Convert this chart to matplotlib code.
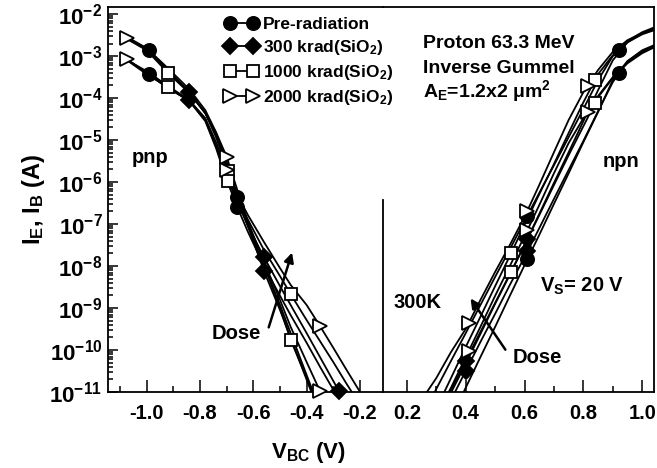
import numpy as np
import matplotlib.pyplot as plt
from matplotlib.lines import Line2D
from matplotlib.ticker import FixedLocator, FixedFormatter, LogLocator, FuncFormatter, NullFormatter

plt.rcParams['font.family'] = ['Liberation Sans', 'DejaVu Sans']
plt.rcParams['font.weight'] = 'bold'
plt.rcParams['axes.labelweight'] = 'bold'
plt.rcParams['mathtext.fontset'] = 'custom'
plt.rcParams['mathtext.rm'] = 'Liberation Sans:bold'
plt.rcParams['mathtext.it'] = 'Liberation Sans:bold'
plt.rcParams['mathtext.bf'] = 'Liberation Sans:bold'
plt.rcParams['mathtext.default'] = 'rm'

# ---- pnp branch (negative V_BC), log10 of current in A ----
vl = [-1.08, -1.00, -0.92, -0.84, -0.78, -0.74, -0.70, -0.66, -0.62,
      -0.56, -0.50, -0.46, -0.40, -0.35, -0.30, -0.25, -0.20, -0.15]

pnp_pre_hi = [-2.52, -2.81, -3.33, -3.86, -4.36, -4.86, -5.55, -6.36, -7.02,
              -7.98, -8.93, -9.60, -10.60, -11.43]
pnp_300_hi = [-2.55, -2.83, -3.36, -3.86, -4.36, -4.83, -5.52, -6.31, -7.05,
              -8.12, -9.05, -9.71, -10.71, -11.55]
pnp_1000_hi = [-2.57, -2.86, -3.40, -3.88, -4.36, -4.93, -5.64, -6.38, -7.05,
               -7.98, -9.00, -9.76, -10.67, -11.43]
pnp_2000_hi = [-2.57, -2.81, -3.29, -3.79, -4.29, -4.81, -5.40, -6.19, -6.95,
               -7.90, -8.81, -9.45, -10.29, -10.98, -11.67]

pnp_pre_lo = [-3.05, -3.40, -3.76, -4.07, -4.55, -5.19, -5.95, -6.60, -7.19,
              -8.00, -8.71, -9.17, -9.83, -10.40, -10.95, -11.48]
pnp_300_lo = [-3.05, -3.40, -3.76, -4.05, -4.52, -5.14, -5.86, -6.48, -7.05,
              -7.79, -8.48, -8.93, -9.60, -10.17, -10.74, -11.31]
pnp_1000_lo = [-3.07, -3.43, -3.74, -4.07, -4.52, -5.14, -5.90, -6.38, -6.90,
               -7.62, -8.24, -8.67, -9.29, -9.79, -10.29, -10.81, -11.31]
pnp_2000_lo = [-3.07, -3.36, -3.71, -4.05, -4.48, -5.05, -5.71, -6.31, -6.79,
               -7.43, -8.05, -8.45, -8.93, -9.43, -9.95, -10.48, -11.00, -11.52]

# ---- npn branch (positive V_BC) ----
vr = [0.25, 0.30, 0.35, 0.40, 0.45, 0.50, 0.55, 0.60, 0.65,
      0.70, 0.75, 0.80, 0.85, 0.90, 0.95, 1.00, 1.05]

npn_pre_hi = [-11.62, -10.93, -10.26, -9.60, -8.93, -8.26, -7.60, -6.93, -6.26,
              -5.60, -4.93, -4.26, -3.57, -3.00, -2.64, -2.43, -2.29]
npn_300_hi = [-11.64, -10.95, -10.26, -9.57, -8.88, -8.19, -7.50, -6.76,
              -6.02, -5.29, -4.55, -3.81, -3.10, -2.67, -2.45, -2.33]
npn_1000_hi = [-11.40, -10.67, -9.93, -9.21, -8.48, -7.76, -7.02, -6.29,
               -5.57, -4.83, -4.10, -3.43, -2.98, -2.67, -2.48, -2.36]
npn_2000_hi = [-11.19, -10.67, -10.05, -9.50, -8.81, -8.14, -7.50, -6.83, -6.07,
               -5.29, -4.52, -3.86, -3.33, -2.90, -2.62, -2.45, -2.33]

npn_pre_lo = [-11.64, -10.90, -10.17, -9.45, -8.71, -7.98, -7.26, -6.52,
              -5.79, -5.05, -4.33, -3.57, -3.12, -2.86, -2.71]
npn_300_lo = [-11.88, -11.19, -10.50, -9.81, -9.14, -8.45, -7.79, -7.10,
              -6.40, -5.71, -5.02, -4.31, -3.62, -3.12, -2.88, -2.74]
npn_1000_lo = [-11.74, -11.02, -10.33, -9.62, -8.90, -8.21, -7.50, -6.79,
               -6.07, -5.36, -4.67, -3.98, -3.52, -3.17, -2.93, -2.76]
npn_2000_lo = [-12.26, -11.57, -10.90, -10.17, -9.45, -8.71, -8.00, -7.29, -6.55,
               -5.79, -5.07, -4.48, -3.95, -3.50, -3.14, -2.90, -2.74]

# symbol positions (V, log10 I)
pnp_pre_mv = [-0.99, -0.99, -0.66, -0.66]
pnp_pre_mi = [-2.86, -3.43, -6.36, -6.60]
pnp_300_mv = [-0.84, -0.84, -0.56, -0.56, -0.28]
pnp_300_mi = [-3.86, -4.05, -8.12, -7.79, -10.97]
pnp_1000_mv = [-0.92, -0.92, -0.695, -0.695, -0.46, -0.46]
pnp_1000_mi = [-3.40, -3.74, -5.73, -5.98, -9.76, -8.67]
pnp_2000_mv = [-1.075, -1.075, -0.70, -0.70, -0.35, -0.35]
pnp_2000_mi = [-2.56, -3.06, -5.40, -5.71, -10.98, -9.43]

npn_pre_mv = [0.61, 0.61, 0.92, 0.92]
npn_pre_mi = [-6.80, -7.84, -2.86, -3.39]
npn_300_mv = [0.40, 0.40, 0.61, 0.61]
npn_300_mi = [-10.26, -10.50, -7.35, -7.65]
npn_1000_mv = [0.555, 0.555, 0.84, 0.84]
npn_1000_mi = [-7.69, -8.14, -3.56, -4.12]
npn_2000_mv = [0.41, 0.41, 0.61, 0.61, 0.815, 0.815]
npn_2000_mi = [-9.36, -10.03, -6.68, -7.14, -3.70, -4.32]

labels = ['Pre-radiation', '300 krad(SiO$_2$)', '1000 krad(SiO$_2$)', '2000 krad(SiO$_2$)']
xticks_l = [-1.0, -0.8, -0.6, -0.4, -0.2]
xticks_r = [0.2, 0.4, 0.6, 0.8, 1.0]

styles = [dict(marker='o', ms=9.5, mfc='k'),
          dict(marker='D', ms=8, mfc='k'),
          dict(marker='s', ms=9, mfc='white'),
          dict(marker='>', ms=9.5, mfc='white')]

pnp_curves = [(pnp_pre_hi, pnp_pre_lo), (pnp_300_hi, pnp_300_lo),
              (pnp_1000_hi, pnp_1000_lo), (pnp_2000_hi, pnp_2000_lo)]
npn_curves = [(npn_pre_hi, npn_pre_lo), (npn_300_hi, npn_300_lo),
              (npn_1000_hi, npn_1000_lo), (npn_2000_hi, npn_2000_lo)]
pnp_marks = [(pnp_pre_mv, pnp_pre_mi), (pnp_300_mv, pnp_300_mi),
             (pnp_1000_mv, pnp_1000_mi), (pnp_2000_mv, pnp_2000_mi)]
npn_marks = [(npn_pre_mv, npn_pre_mi), (npn_300_mv, npn_300_mi),
             (npn_1000_mv, npn_1000_mi), (npn_2000_mv, npn_2000_mi)]

fig = plt.figure(figsize=(6.57, 4.68), dpi=100)
axl = fig.add_axes([0.1644, 0.1624, 0.4181, 0.8226])
axr = fig.add_axes([0.5825, 0.1624, 0.4129, 0.8226], sharey=axl)
axr.patch.set_visible(False)  # let the legend run across the break

for i in range(4):
    for c in pnp_curves[i]:
        axl.plot(vl[:len(c)], 10.0 ** np.array(c), color='k', lw=1.3)
    for c in npn_curves[i]:
        axr.plot(vr[len(vr) - len(c):], 10.0 ** np.array(c), color='k', lw=1.3)

for i in range(4):
    st = styles[i]
    for ax, (mv, mi) in ((axl, pnp_marks[i]), (axr, npn_marks[i])):
        ax.plot(mv, 10.0 ** np.array(mi), ls='none', marker=st['marker'], ms=st['ms'],
                mfc=st['mfc'], mec='k', mew=1.3, clip_on=False, zorder=5)

axl.set_yscale('log')
axl.set_ylim(1e-11, 10 ** -1.83)
axl.yaxis.set_major_locator(FixedLocator(10.0 ** np.arange(-11, -1)))
axl.yaxis.set_minor_locator(LogLocator(base=10, subs=np.arange(2, 10), numticks=30))
axl.yaxis.set_major_formatter(FuncFormatter(lambda y, _: r'$10^{%d}$' % round(np.log10(y))))
axl.yaxis.set_minor_formatter(NullFormatter())

axl.set_xlim(-1.145, -0.115)
axr.set_xlim(0.118, 1.040)
axl.xaxis.set_major_locator(FixedLocator(xticks_l))
axl.xaxis.set_major_formatter(FixedFormatter(['%.1f' % t for t in xticks_l]))
axl.xaxis.set_minor_locator(FixedLocator([-1.1, -0.9, -0.7, -0.5, -0.3]))
axr.xaxis.set_major_locator(FixedLocator(xticks_r))
axr.xaxis.set_major_formatter(FixedFormatter(['%.1f' % t for t in xticks_r]))
axr.xaxis.set_minor_locator(FixedLocator([0.3, 0.5, 0.7, 0.9]))

for ax in (axl, axr):
    ax.tick_params(which='both', direction='in', width=1.1, top=False, right=False,
                   labelsize=14.5)
    ax.tick_params(which='major', length=8.5, pad=9)
    ax.tick_params(which='minor', length=4.3)
    for s in ax.spines.values():
        s.set_linewidth(1.3)
axl.tick_params(axis='y', which='major', length=7, pad=4, labelsize=16)
axl.tick_params(axis='y', which='minor', length=3.5)
axl.spines['right'].set_visible(False)
axr.spines['left'].set_visible(False)
axr.tick_params(axis='y', which='both', left=False, labelleft=False)

# partial divider between the two branches
axr.plot([0, 0], [0, 0.5], transform=axr.transAxes, color='k', lw=1.3, clip_on=False)

axl.set_ylabel('I$_E$, I$_B$ (A)', fontsize=17, labelpad=2)
fig.text(0.470, 0.021, 'V$_{BC}$ (V)', fontsize=16, fontweight='bold', ha='center', va='baseline')

handles = [Line2D([], [], color='k', lw=1.3, marker=s['marker'], ms=s['ms'],
                  mfc=s['mfc'], mec='k', mew=1.3) for s in styles]
axl.legend(handles, labels, loc='upper left', bbox_to_anchor=(0.425, 0.975),
           frameon=False, numpoints=2, fontsize=12.5, handlelength=1.9,
           handletextpad=0.3, labelspacing=0.35, borderpad=0, borderaxespad=0)

axl.text(0.087, 0.595, 'pnp', transform=axl.transAxes, fontsize=14.5, va='baseline')
axl.text(0.379, 0.153, 'Dose', transform=axl.transAxes, fontsize=14.5, va='center')
axl.annotate('', xy=(0.673, 0.369), xytext=(0.582, 0.161), xycoords='axes fraction',
             arrowprops=dict(arrowstyle='-|>', color='k', lw=1.8, mutation_scale=14))

axr.text(0.149, 0.893, 'Proton 63.3 MeV', transform=axr.transAxes, fontsize=14, va='baseline')
axr.text(0.149, 0.828, 'Inverse Gummel', transform=axr.transAxes, fontsize=14, va='baseline')
axr.text(0.149, 0.767, 'A$_E$=1.2x2 μm$^2$', transform=axr.transAxes, fontsize=14, va='baseline')
axr.text(0.812, 0.584, 'npn', transform=axr.transAxes, fontsize=14.5, va='baseline')
axr.text(0.038, 0.218, '300K', transform=axr.transAxes, fontsize=14.5, va='baseline')
axr.text(0.580, 0.260, 'V$_S$= 20 V', transform=axr.transAxes, fontsize=14.5, va='baseline')
axr.text(0.480, 0.075, 'Dose', transform=axr.transAxes, fontsize=14.5, va='baseline')
axr.annotate('', xy=(0.318, 0.249), xytext=(0.458, 0.104), xycoords='axes fraction',
             arrowprops=dict(arrowstyle='-|>', color='k', lw=1.8, mutation_scale=14))

fig.savefig('out.png', dpi=100)
